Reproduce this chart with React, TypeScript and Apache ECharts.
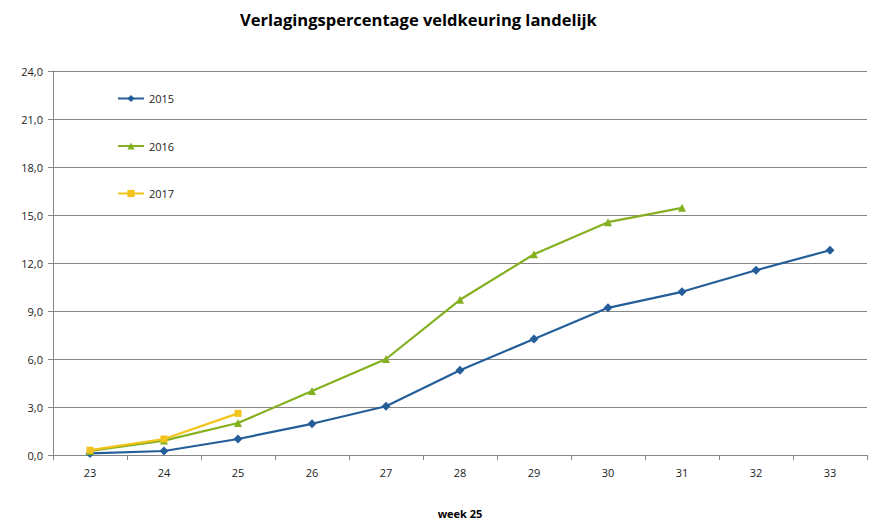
import React, { useEffect, useRef } from "react";
import * as echarts from "echarts";

const weeks = ["23", "24", "25", "26", "27", "28", "29", "30", "31", "32", "33"];
const s2015 = [0.1, 0.25, 1.0, 1.95, 3.05, 5.3, 7.25, 9.2, 10.2, 11.55, 12.8];
const s2016 = [0.25, 0.9, 2.0, 4.0, 6.0, 9.7, 12.55, 14.55, 15.45];
const s2017 = [0.3, 1.0, 2.6];
const seriesNames = ["2015", "2016", "2017"];
const title = "Verlagingspercentage veldkeuring landelijk";
const xName = "week 25";

export default function App() {
  const ref = useRef<HTMLDivElement>(null);
  useEffect(() => {
    if (!ref.current) return;
    const chart = echarts.init(ref.current, undefined, { renderer: "svg" });
    const font = "'Open Sans', 'DejaVu Sans', sans-serif";
    chart.setOption({
      animation: false,
      textStyle: { fontFamily: font },
      title: {
        text: title,
        left: 235,
        top: 6,
        textStyle: { fontSize: 16.5, fontWeight: "bold", color: "#000", fontFamily: font },
      },
      legend: {
        orient: "vertical",
        left: 112,
        top: 88,
        itemGap: 36.5,
        itemWidth: 26,
        itemHeight: 9,
        data: seriesNames,
        textStyle: { fontSize: 11, color: "#222", fontFamily: font },
      },
      grid: { left: 53, right: 10, top: 71, bottom: 66, outerBoundsMode: "none" },
      xAxis: {
        type: "category",
        data: weeks,
        boundaryGap: true,
        name: xName,
        nameLocation: "middle",
        nameGap: 53,
        nameTextStyle: { fontSize: 11, fontWeight: "bold", color: "#000" },
        axisLine: { lineStyle: { color: "#868686" } },
        axisTick: { show: true, length: 5, alignWithLabel: false, lineStyle: { color: "#868686" } },
        axisLabel: { fontSize: 11, color: "#222", margin: 12 },
        splitLine: { show: false },
      },
      yAxis: {
        type: "value",
        min: 0,
        max: 24,
        interval: 3,
        axisLine: { show: true, lineStyle: { color: "#868686" } },
        axisTick: { show: true, length: 5, lineStyle: { color: "#868686" } },
        axisLabel: {
          fontSize: 11,
          color: "#222",
          margin: 10,
          formatter: (v: number) => v.toFixed(1).replace(".", ","),
        },
        splitLine: { lineStyle: { color: "#868686", width: 1 } },
      },
      series: [
        {
          name: seriesNames[0],
          type: "line",
          data: s2015,
          symbol: "diamond",
          symbolSize: 9,
          itemStyle: { color: "#245E98" },
          lineStyle: { width: 2.2, color: "#245E98" },
        },
        {
          name: seriesNames[1],
          type: "line",
          data: s2016,
          symbol: "triangle",
          symbolSize: 8,
          itemStyle: { color: "#84B01F" },
          lineStyle: { width: 2.2, color: "#84B01F" },
        },
        {
          name: seriesNames[2],
          type: "line",
          data: s2017,
          symbol: "rect",
          symbolSize: 7,
          itemStyle: { color: "#F2C31A" },
          lineStyle: { width: 2.2, color: "#F2C31A" },
        },
      ],
    });
    return () => chart.dispose();
  }, []);
  return <div ref={ref} style={{ width: 877, height: 521, position: "absolute", left: 0, top: 0 }} />;
}
